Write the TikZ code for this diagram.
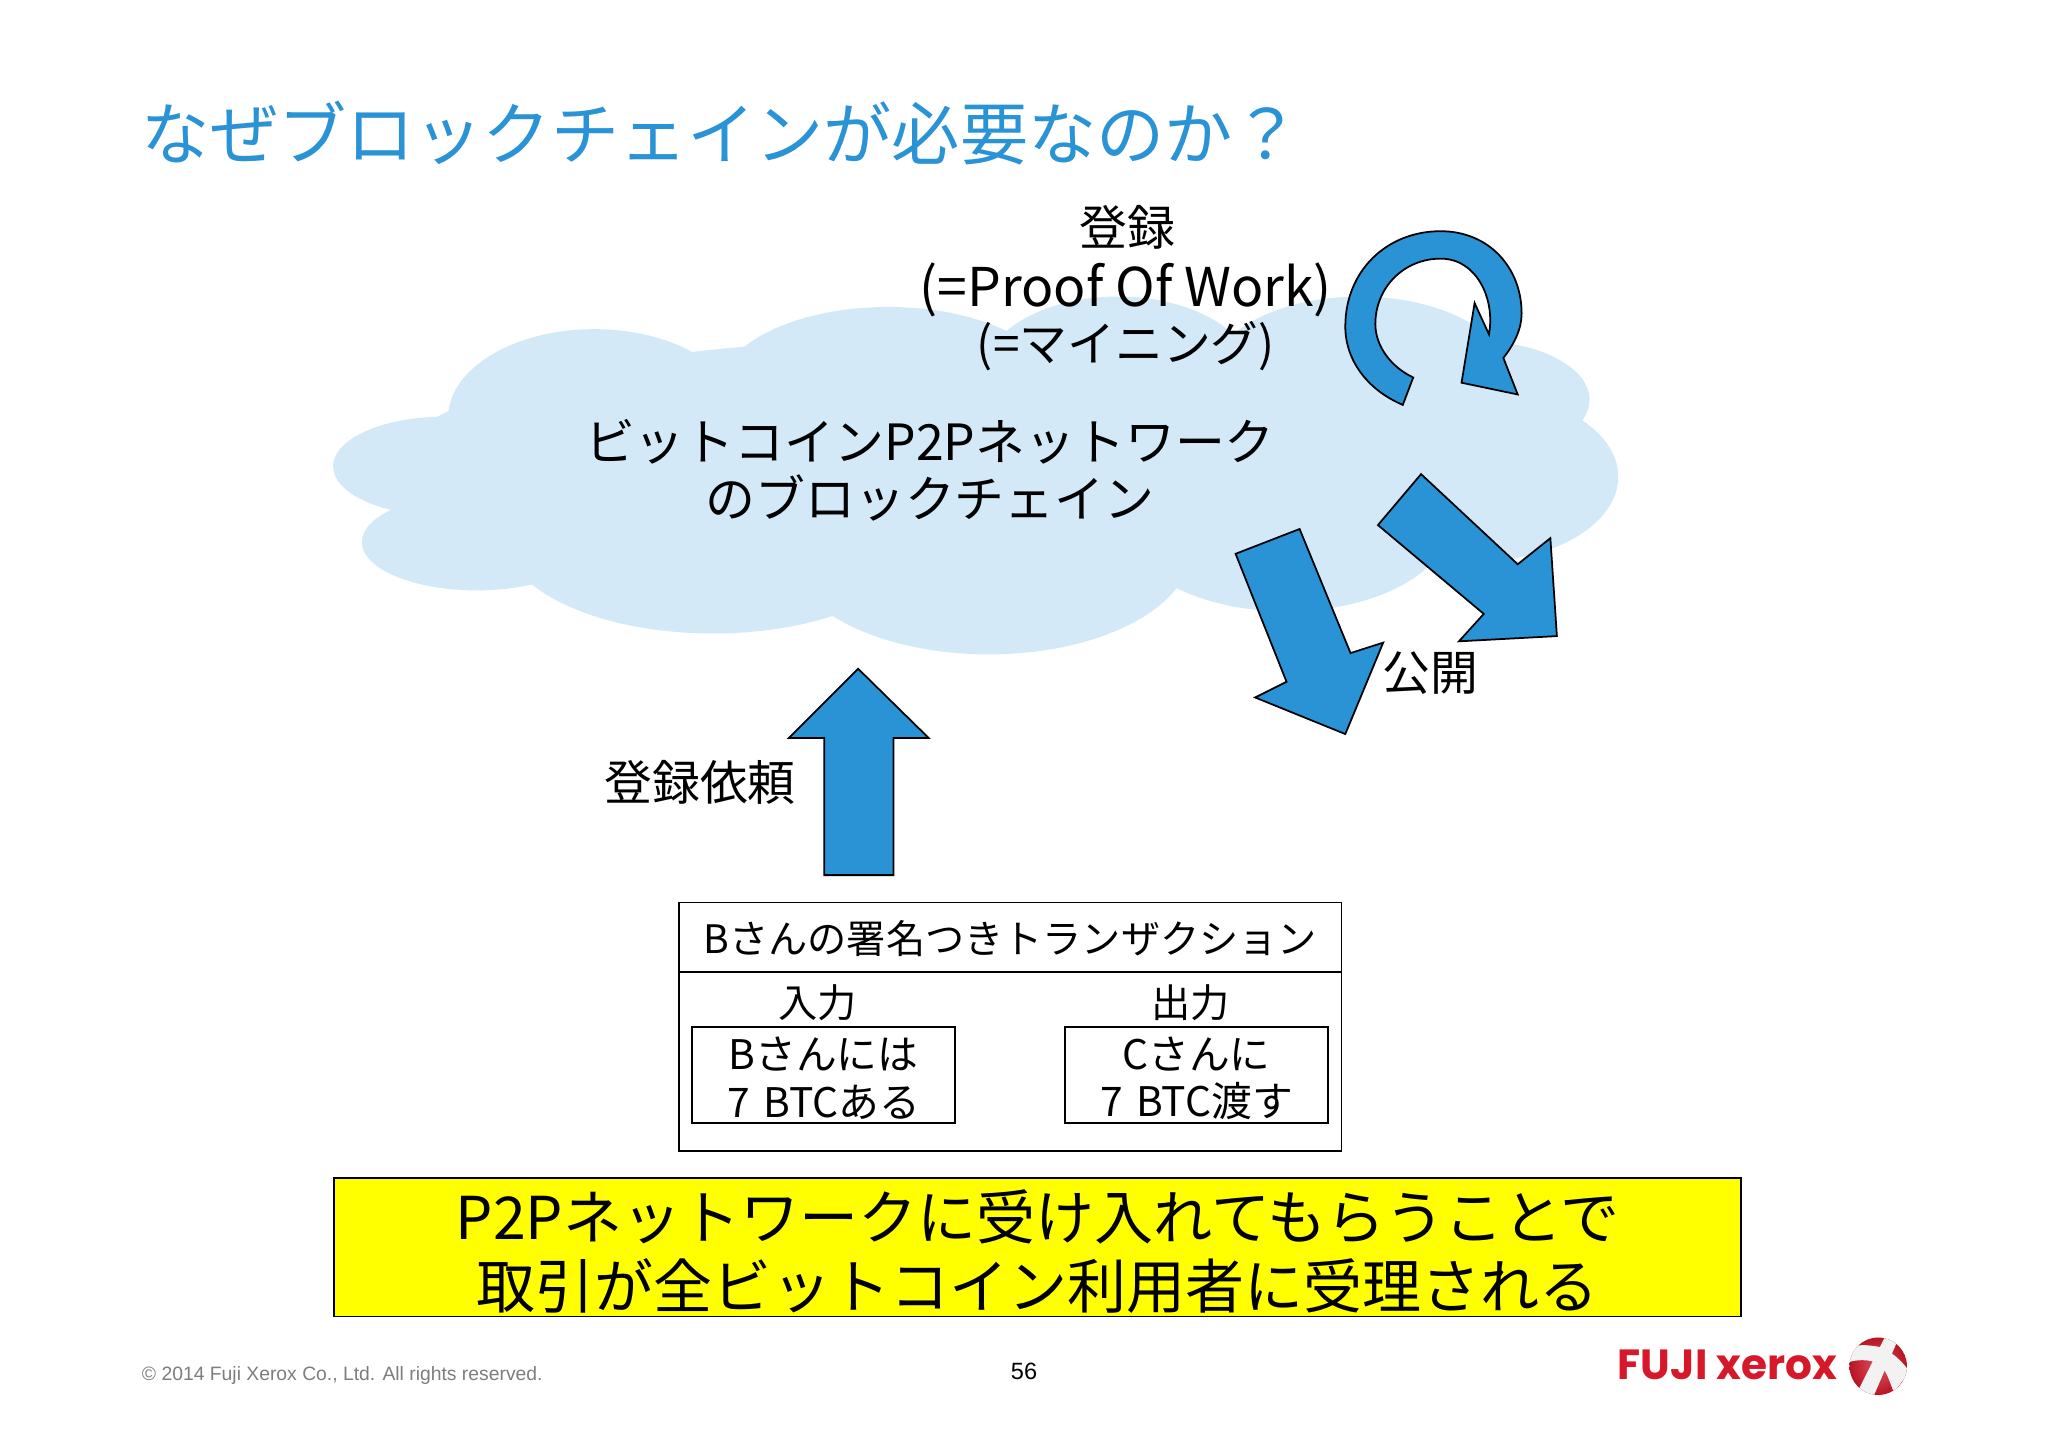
\documentclass[tikz,border=0pt]{standalone}
\usepackage{fontspec}
\setmainfont{Noto Sans CJK JP}
\newfontfamily\footfont{Liberation Sans}
\newfontfamily\logofont{Poppins}
\usetikzlibrary{positioning}
\definecolor{myblue}{RGB}{41, 147, 213}
\definecolor{mycloud}{RGB}{211, 233, 248}
\definecolor{myred}{RGB}{215, 24, 42}
\definecolor{mygray}{RGB}{125, 125, 125}
\definecolor{myyellow}{RGB}{255, 255, 0}

\begin{document}
\begin{tikzpicture}[x=0.013061cm,y=-0.013061cm,on grid,line width=0.5pt]
    % estilos
    \tikzstyle{big arrow}=[draw=black,fill=myblue,line join=miter]
    \tikzstyle{big text}=[inner sep=0,align=center,font=\fontsize{13.6}{16.4}\selectfont]
    \tikzstyle{small text}=[inner sep=0,align=center,font=\fontsize{11.15}{13.4}\selectfont]
    \tikzstyle{tx box}=[draw=black,minimum height=74*0.013061cm,minimum width=201*0.013061cm]
    \tikzstyle{tx text}=[inner sep=0,align=center,font=\fontsize{11.6}{13.4}\selectfont]
    \useasboundingbox (0,0) rectangle (1568,1108);

    \node[inner sep=0,anchor=west,text=myblue,font=\fontsize{19.4}{23}\selectfont] (title) at (108,102) {なぜブロックチェインが必要なのか？};

    % nube
    \fill[mycloud] (340,357) ellipse (85 and 38) (365,415) ellipse (88 and 37)
      (455,320) ellipse (112 and 68) (680,300) ellipse (130 and 65)
      (856,290) ellipse (105 and 63) (1041,290) ellipse (115 and 63)
      (1130,306) ellipse (87 and 45) (1130,365) ellipse (109 and 65)
      (985,400) ellipse (125 and 68) (757,420) ellipse (155 and 81)
      (546,410) ellipse (160 and 75) (700,360) ellipse (400 and 100);

    \node[big text] (reg) at (863,174) {登録};
    \node[big text,font=\fontsize{15.2}{18}\selectfont] (pow) at (862,222) {(=Proof Of Work)};
    \node[big text] (mine) at (862,265) {(=マイニング)};
    \node[big text,font=\fontsize{14.2}{16.4}\selectfont] (chain) at (712,360) {ビットコインP2Pネットワーク\\のブロックチェイン};
    \node[big text] (pub) at (1095,515) {公開};
    \node[big text] (ask) at (536,599) {登録依頼};

    % flechas
    \draw[big arrow] (657,512) -- (711,565) -- (684,565) -- (684,670) -- (631,670) -- (631,565) -- (604,565) -- cycle;
    \draw[big arrow] (946,424) -- (995,405) -- (1034,500) -- (1059,492) -- (1030,562) -- (961,534) -- (985,522) -- cycle;
    \draw[big arrow] (1055,402) -- (1088,363) -- (1162,432) -- (1187,412) -- (1192,487) -- (1117,491) -- (1136,470) -- cycle;
    \draw[big arrow] (1074,310) .. controls (1046,298) and (1030,275) .. (1030,250)
      .. controls (1030,207) and (1062,177) .. (1103,177) .. controls (1140,177) and (1165,205) .. (1165,240)
      .. controls (1165,252) and (1159,264) .. (1151,274) -- (1162,302) -- (1119,293) -- (1129,232) -- (1140,256)
      .. controls (1145,228) and (1130,198) .. (1103,198) .. controls (1075,198) and (1053,220) .. (1053,248)
      .. controls (1053,265) and (1065,281) .. (1082,289) -- cycle;

    % transaccion
    \node[draw=black,small text,minimum width=507*0.013061cm,minimum height=53*0.013061cm,text depth=-1.5pt] (t_head) at (773.5,717.5) {Bさんの署名つきトランザクション};
    \node[draw=black,minimum width=507*0.013061cm,minimum height=137*0.013061cm,inner sep=0] (t_body) at (773.5,812.5) {};
    \node[tx box] (t_in) at (630.5,823) {};
    \node[tx box] (t_out) at (916,823) {};
    \node[tx text] (v_in) at (630.5,825.5) {Bさんには\\7\,\,BTCある};
    \node[tx text] (v_out) at (916,825.5) {Cさんに\\7\,\,BTC渡す};
    \node[small text,above=15.3pt of t_in.center,xshift=-1.6pt] (l_in) {入力};
    \node[small text,above=15.3pt of t_out.center,xshift=-1.6pt] (l_out) {出力};

    \node[draw=black,fill=myyellow,minimum width=1077*0.013061cm,minimum height=106*0.013061cm] (note) at (794.5,955) {};
    \node[inner sep=0,align=center,font=\fontsize{16.8}{19.7}\selectfont] (note_text) at (794.5,958.5) {P2Pネットワークに受け入れてもらうことで\\取引が全ビットコイン利用者に受理される};

    % pie
    \node[inner sep=0,anchor=west,text=mygray,font=\footfont\fontsize{5.5}{7}\selectfont] (copy) at (108,1053) {© 2014 Fuji Xerox Co., Ltd. All rights reserved.};
    \node[inner sep=0,font=\footfont\fontsize{6.7}{8}\selectfont] (page) at (784,1050) {56};
    \node[inner sep=0,anchor=west,text=myred,font=\logofont\bfseries\fontsize{12}{14}\selectfont] (logo) at (1238,1045) {FUJI xerox};
    \begin{scope}
      \clip (1438,1046) circle (22);
      \shade[inner color=myred!75!white,outer color=myred!85!black] (1438,1046) circle (22);
      \fill[white!90!gray] (1412,1034) .. controls (1422,1028) and (1430,1030) .. (1438,1031) .. controls (1448,1034) and (1456,1042) .. (1462,1050)
        -- (1450,1066) .. controls (1446,1056) and (1444,1048) .. (1438,1044) .. controls (1432,1041) and (1422,1040) .. (1412,1044) -- cycle;
      \fill[white!90!gray] (1443,1024) -- (1453,1026) -- (1434,1070) -- (1423,1064) -- cycle;
    \end{scope}
\end{tikzpicture}
\end{document}
